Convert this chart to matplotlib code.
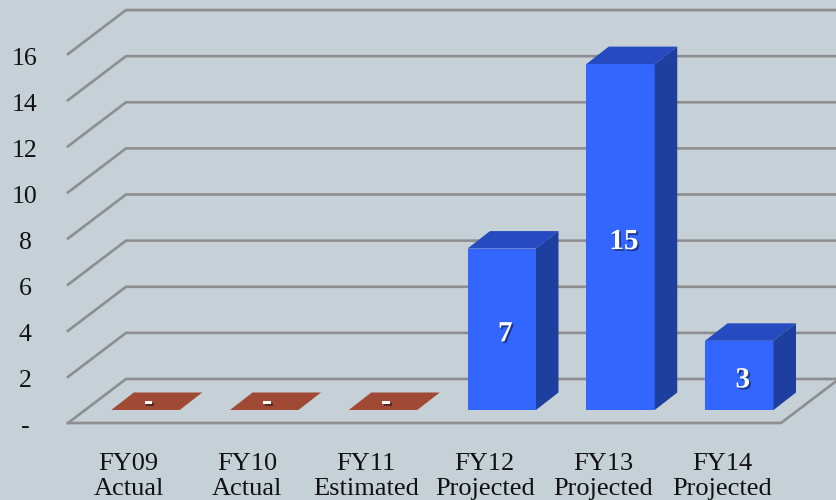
import matplotlib
matplotlib.use('Agg')
import matplotlib.pyplot as plt
import matplotlib.patheffects as pe

categories = ['FY09\nActual', 'FY10\nActual', 'FY11\nEstimated',
              'FY12\nProjected', 'FY13\nProjected', 'FY14\nProjected']
values = [0, 0, 0, 7, 15, 3]
y_ticks = [0, 2, 4, 6, 8, 10, 12, 14, 16]

BG = '#c5d0d7'
GRID = '#8e8e8e'
FRONT = '#3366ff'
TOP = '#264bc0'
SIDE = '#1e3f9e'
EMPTY = '#a04a35'
FONT = 'Liberation Serif'

# one category = 118.75 px, one unit = 23.06 px, so the 3D look can be sheared by hand
PX_X = 118.75
PX_Y = 23.06
BAR_W = 68.5 / PX_X
DEPTH_X = 22.5 / PX_X
DEPTH_Y = 17.5 / PX_Y
# the walls sit in front of and behind the row of bars
WALL_FRONT_Y = -13 / PX_Y
WALL_BACK_Y = 31 / PX_Y
WALL_LEFT = -77.5 / PX_X
WALL_SHEAR = 58 / PX_X

fig = plt.figure(figsize=(8.36, 5), dpi=100, facecolor=BG)
ax = fig.add_axes([0, 0, 1, 1])
ax.set_xlim(-145.5 / PX_X, (836 - 145.5) / PX_X)
ax.set_ylim(-90 / PX_Y, 410 / PX_Y)
ax.axis('off')

# gridlines: diagonal on the side wall, flat along the back wall
for v in y_ticks:
    ax.plot([WALL_LEFT, WALL_LEFT + WALL_SHEAR, ax.get_xlim()[1]],
            [v + WALL_FRONT_Y, v + WALL_BACK_Y, v + WALL_BACK_Y],
            color=GRID, lw=1.9, zorder=1, solid_joinstyle='miter')

# floor outline
front_right = (781 - 145.5) / PX_X
ax.plot([WALL_LEFT, front_right, front_right + WALL_SHEAR],
        [WALL_FRONT_Y, WALL_FRONT_Y, WALL_BACK_Y],
        color=GRID, lw=1.9, zorder=1)

shadow = [pe.withSimplePatchShadow(offset=(1.3, -1.3), shadow_rgbFace='black', alpha=0.45)]

for i, v in enumerate(values):
    left = i - BAR_W / 2
    right = i + BAR_W / 2
    if v == 0:
        # zero values only show up as a flat tile on the floor
        ax.fill([left, right, right + DEPTH_X, left + DEPTH_X],
                [0, 0, DEPTH_Y, DEPTH_Y], color=EMPTY, lw=0, zorder=2)
        ax.text(i + 3 / PX_X, 8 / PX_Y, '-', color='white', fontsize=21, fontweight='bold',
                family=FONT, ha='center', va='center', zorder=5, path_effects=shadow)
        continue
    ax.bar(i, v, width=BAR_W, color=FRONT, zorder=3)
    ax.fill([left, right, right + DEPTH_X, left + DEPTH_X],
            [v, v, v + DEPTH_Y, v + DEPTH_Y], color=TOP, lw=0, zorder=3)
    ax.fill([right, right + DEPTH_X, right + DEPTH_X, right],
            [0, DEPTH_Y, v + DEPTH_Y, v], color=SIDE, lw=0, zorder=3)
    ax.text(i + 3.5 / PX_X, v / 2 - 4.5 / PX_Y, str(v), color='white', fontsize=21, fontweight='bold',
            family=FONT, ha='center', va='center', zorder=5, path_effects=shadow)

# value axis labels, zero is written as a dash
for v in y_ticks:
    ax.text(-120.5 / PX_X, v + WALL_FRONT_Y - 4.5 / PX_Y, str(v) if v else '-', fontsize=18.5,
            family=FONT, color='#111111', ha='center', va='center', zorder=5)

for i, name in enumerate(categories):
    ax.text(i - 17 / PX_X, -42.5 / PX_Y, name, fontsize=19, family=FONT, color='#111111',
            ha='center', va='top', linespacing=1.2, zorder=5)

fig.savefig('out.png', dpi=100, facecolor=BG)
